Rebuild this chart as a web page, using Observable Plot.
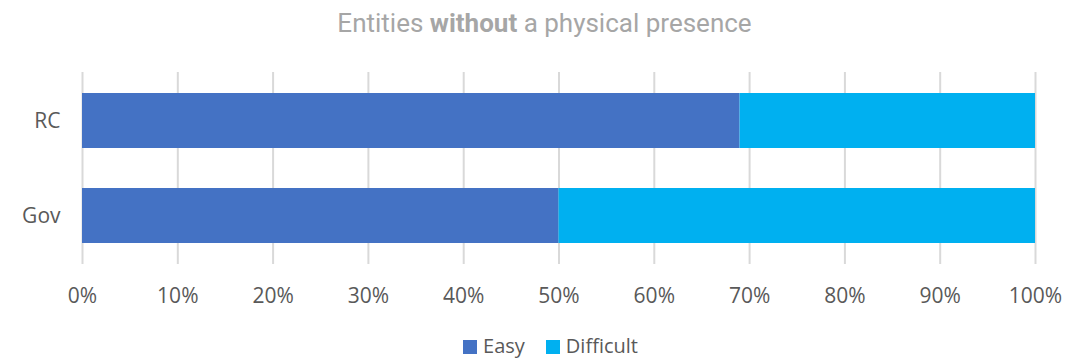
<!DOCTYPE html>
<html>
<head>
<meta charset="utf-8">
<script src="https://cdn.jsdelivr.net/npm/d3@7"></script>
<script src="https://cdn.jsdelivr.net/npm/@observablehq/plot@0.6"></script>
<style>
  html, body { margin: 0; padding: 0; background: #fff; }
  #wrap { width: 1077px; height: 360px; position: relative; overflow: hidden; }
  #title { height: 42px; line-height: 47px; text-align: center; padding-left: 12px; font-family: Roboto, sans-serif; font-size: 26px; color: #a6a6a6; }
  #title b { font-weight: bold; }
  #legend { position: absolute; top: 332px; left: 0; padding-left: 24px; width: 1053px; height: 27px; line-height: 27px; display: flex; justify-content: center; gap: 21px; font-family: "Open Sans", sans-serif; font-size: 20px; color: #595959; }
  .item { display: flex; align-items: center; gap: 6px; height: 27px; }
  .sw { width: 14px; height: 14px; display: inline-block; margin-top: 2px; }
</style>
</head>
<body>
<div id="wrap">
  <div id="title">Entities <b>without</b> a physical presence</div>
  <div id="chart"></div>
  <div id="legend"></div>
</div>
<script>
const categories = ["RC", "Gov"];
const series = ["Easy", "Difficult"];
const easy = [69, 50];
const difficult = [31, 50];
const colors = ["#4472c4", "#00b0f0"];
const xTicks = [0, 10, 20, 30, 40, 50, 60, 70, 80, 90, 100];

const rows = [];
categories.forEach((c, i) => {
  rows.push({category: c, series: "Easy", value: easy[i]});
  rows.push({category: c, series: "Difficult", value: difficult[i]});
});

const chart = Plot.plot({
  width: 1077,
  height: 290,
  marginTop: 30,
  marginBottom: 68,
  marginLeft: 82,
  marginRight: 42,
  style: {fontFamily: "'Open Sans', sans-serif", fontSize: "21px", color: "#595959", background: "#fff"},
  x: {domain: [0, 100], ticks: xTicks, tickFormat: d => d + "%", label: null},
  y: {domain: categories, paddingInner: 0.424, paddingOuter: 0.22, label: null},
  color: {domain: series, range: colors},
  marks: [
    Plot.gridX(xTicks, {stroke: "#d9d9d9", strokeOpacity: 1, strokeWidth: 2}),
    Plot.barX(rows, Plot.stackX({y: "category", x: "value", fill: "series", order: series})),
    Plot.axisX({ticks: xTicks, tickFormat: d => d + "%", tickSize: 0, tickPadding: 24, label: null, fill: "#595959", fontSize: 21}),
    Plot.axisY({tickSize: 0, tickPadding: 22, label: null, fill: "#595959", fontSize: 21})
  ]
});
document.getElementById("chart").appendChild(chart);

const legend = document.getElementById("legend");
series.forEach((s, i) => {
  const it = document.createElement("div");
  it.className = "item";
  const sw = document.createElement("span");
  sw.className = "sw";
  sw.style.background = colors[i];
  const t = document.createElement("span");
  t.textContent = s;
  it.appendChild(sw); it.appendChild(t);
  legend.appendChild(it);
});
</script>
</body>
</html>
